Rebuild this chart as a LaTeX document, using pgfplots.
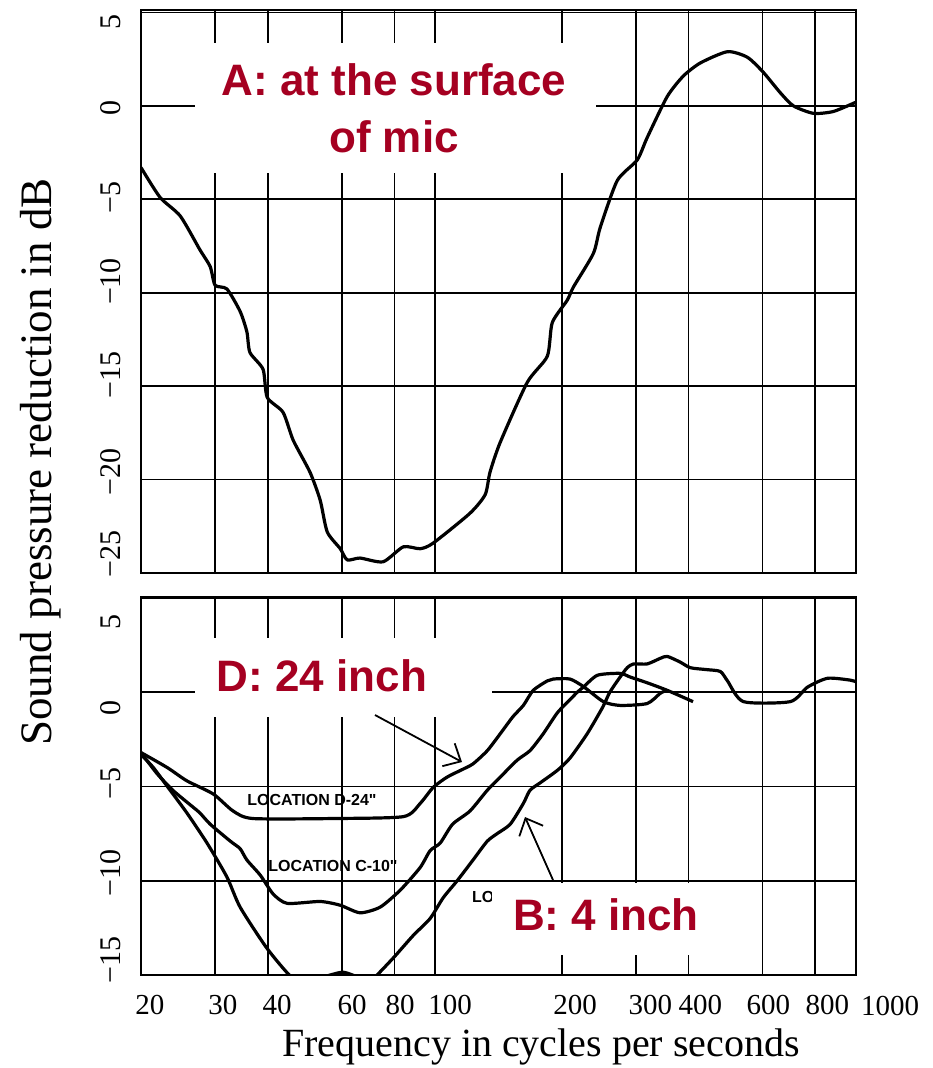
\documentclass[border=0pt]{standalone}
\usepackage{fontspec}
\setmainfont{Liberation Serif}
\newfontfamily\annfont{Liberation Sans}
\usepackage{pgfplots}
\pgfplotsset{compat=1.18}
\usetikzlibrary{arrows.meta}
\definecolor{annred}{RGB}{165,0,33}

\begin{document}
\begin{tikzpicture}
\useasboundingbox (0,0) rectangle (932pt,-1068pt);

% top panel: at the surface of the mic
\begin{axis}[at={(141pt,-10pt)}, anchor=north west,
    xmode=log, xmin=20, xmax=1000,
    width=715pt, height=563pt, scale only axis,
    ymin=-25, ymax=5.13,
    xtick={20,30,40,60,80,100,200,300,400,600,800,1000},
    xticklabels={},
    xmajorgrids=true,
    % the printed numbers sit a little off the ruled lines
    ytick={-24.0,-19.6,-14.4,-9.4,-4.9,-0.1,4.5},
    yticklabels={−25,−20,−15,−10,−5,0,5},
    extra y ticks={-25,-20,-15,-10,-5,0,5},
    extra y tick labels={},
    extra tick style={grid=major},
    major grid style={black, line width=1.6pt},
    axis line style={black, line width=2.6pt},
    major tick length=0pt,
    yticklabel style={rotate=90, anchor=south, yshift=17pt,
        font=\fontsize{30}{30}\selectfont}]
\addplot[black, line width=3.2pt, line join=round, smooth, tension=0.4] coordinates {
(20,-3.3) (22.2,-4.9) (24.8,-5.9) (27.6,-7.7) (29.2,-8.6) (30,-9.6) (32,-9.8)
(34.4,-11.0) (35.7,-12.1) (36.3,-13.2) (39,-14.1) (39.9,-15.6) (43.5,-16.4)
(46,-17.9) (50.4,-19.6) (53.3,-21.1) (55.4,-22.8) (59.5,-23.7) (61.8,-24.3)
(66.3,-24.2) (75.2,-24.4) (84,-23.6) (92.1,-23.7) (98.9,-23.4) (121,-21.8)
(131.5,-20.8) (135,-19.6) (142.8,-18.0) (165.5,-14.8) (184.7,-13.4)
(189.8,-11.6) (206,-10.4) (213,-9.7) (237.6,-7.9) (246.8,-6.5) (270.8,-4.0)
(302,-2.9) (319,-1.7) (356,0.5) (389,1.6) (427,2.3) (495,2.9) (552,2.6)
(602,1.8) (661,0.7) (710,0.0) (792,-0.4) (884,-0.3) (1000,0.2)
};
\end{axis}

% bottom panel: locations B, C, D
\begin{axis}[at={(141pt,-597pt)}, anchor=north west,
    xmode=log, xmin=20, xmax=1000,
    width=715pt, height=378pt, scale only axis,
    ymin=-15, ymax=5.05,
    xtick={21,31.3,42.1,63.5,82.6,108.6,215,324.6,426.8,619.4,855},
    xticklabels={20,30,40,60,80,100,200,300,400,600,800},
    extra x ticks={20,30,40,60,80,100,200,300,400,600,800,1000},
    extra x tick labels={},
    ytick={-14.2,-9.6,-4.85,-0.85,3.7},
    yticklabels={−15,−10,−5,0,5},
    extra y ticks={-15,-10,-5,0,5},
    extra y tick labels={},
    extra tick style={grid=major},
    major grid style={black, line width=1.6pt},
    axis line style={black, line width=2.6pt},
    major tick length=0pt,
    yticklabel style={rotate=90, anchor=south, yshift=17pt,
        font=\fontsize{30}{30}\selectfont},
    xticklabel style={yshift=-17pt, font=\fontsize{29}{29}\selectfont}]
% D 24 inch
\addplot[black, line width=3.2pt, line join=round, smooth, tension=0.4] coordinates {
(20,-3.2) (23.1,-4.0) (25.7,-4.7) (29.7,-5.4) (33.1,-6.3) (36.9,-6.7)
(57.2,-6.7) (84,-6.6) (92.1,-5.9) (98.9,-5.05) (106.8,-4.5) (116,-4.1)
(123,-3.8) (133,-3.1) (142.8,-2.2) (153,-1.3) (162,-0.7) (171,0.1)
(184.7,0.6) (191,0.7) (209,0.7) (225,0.3) (251,-0.5) (275,-0.7) (319,-0.6)
(343,-0.05) (356,0.1)
};
% C 10 inch
\addplot[black, line width=3.2pt, line join=round, smooth, tension=0.4] coordinates {
(20,-3.2) (21.8,-4.3) (23.8,-5.2) (26.6,-6.1) (27.6,-6.4) (29.2,-7.0)
(32.6,-7.9) (34.4,-8.3) (35.7,-8.9) (38.4,-9.7) (41.2,-10.7) (44.5,-11.2)
(53.3,-11.1) (59.5,-11.3) (66.3,-11.7) (74,-11.4) (82.6,-10.5) (92.1,-9.3)
(97.3,-8.4) (102.8,-8.0) (110,-7.0) (121,-6.3) (133,-5.2) (142.8,-4.5)
(156.7,-3.6) (168,-3.1) (180.7,-2.2) (195,-1.1) (209,-0.4) (217.6,0.0)
(225,0.27) (243,0.9) (275,1.0) (291,0.8) (319,0.5) (356,0.1) (410,-0.5)
};
% B 4 inch
\addplot[black, line width=3.2pt, line join=round, smooth, tension=0.4] coordinates {
(20,-3.3) (21.4,-4.0) (23.1,-5.0) (25.7,-6.4) (28.7,-8.0) (32,-9.8)
(34.4,-11.4) (39.9,-13.6) (46,-15.2) (50.4,-15.3) (56.3,-15.0) (60.4,-14.85)
(64.5,-15.05) (68.2,-15.3) (71.2,-15.2) (79.5,-14.1) (88.7,-12.9)
(97.3,-12.0) (104.5,-10.9) (112.8,-10.0) (123,-8.9) (133,-7.9) (140.4,-7.5)
(150.8,-7.0) (162,-5.9) (168,-5.2) (177.8,-4.8) (195,-4.15) (209,-3.5)
(229.8,-2.2) (250,-0.8) (260,0.0) (275,0.8) (286,1.3) (296,1.5) (319,1.5)
(343,1.8) (356,1.9) (382,1.6) (404,1.3) (441,1.2) (476,1.1) (495,0.6)
(540,-0.5) (698,-0.5) (767,0.27) (856,0.74) (970,0.64) (1000,0.55)
};
\end{axis}

% last frequency number, printed past the right edge
\node[font=\fontsize{29}{29}\selectfont] at (890pt,-1006pt) {1000};

% curve labels printed on the original sheet (the B one is mostly covered)
\node[font=\annfont\bfseries\fontsize{16}{16}\selectfont] at (312pt,-800pt) {LOCATION D-24"};
\node[font=\annfont\bfseries\fontsize{16}{16}\selectfont] at (333pt,-866pt) {LOCATION C-10"};
\node[font=\annfont\bfseries\fontsize{16}{16}\selectfont, anchor=west, inner sep=0pt] at (472pt,-897pt) {LO};

% white patches behind the annotations
\fill[white] (195pt,-43pt) rectangle (596pt,-173pt);
\fill[white] (195pt,-638pt) rectangle (492pt,-717pt);
\fill[white] (492pt,-883pt) rectangle (742pt,-955pt);

\node[annred, font=\annfont\bfseries\fontsize{44}{57}\selectfont, align=center]
    at (394pt,-108pt) {A: at the surface\\of mic};
\node[annred, font=\annfont\bfseries\fontsize{44}{44}\selectfont]
    at (322pt,-676pt) {D: 24 inch};
\node[annred, font=\annfont\bfseries\fontsize{44}{44}\selectfont]
    at (606pt,-915pt) {B: 4 inch};

\draw[line width=1.8pt, -{Straight Barb[length=14pt, width=26pt]}]
    (375pt,-715pt) -- (462pt,-762pt);
\draw[line width=1.8pt, -{Straight Barb[length=14pt, width=26pt]}]
    (553pt,-880pt) -- (525pt,-817pt);

% axis titles
\node[rotate=90, font=\fontsize{45}{45}\selectfont] at (41pt,-462pt)
    {Sound pressure reduction in dB};
\node[font=\fontsize{40}{40}\selectfont] at (541pt,-1047pt)
    {Frequency in cycles per seconds};
\end{tikzpicture}
\end{document}
